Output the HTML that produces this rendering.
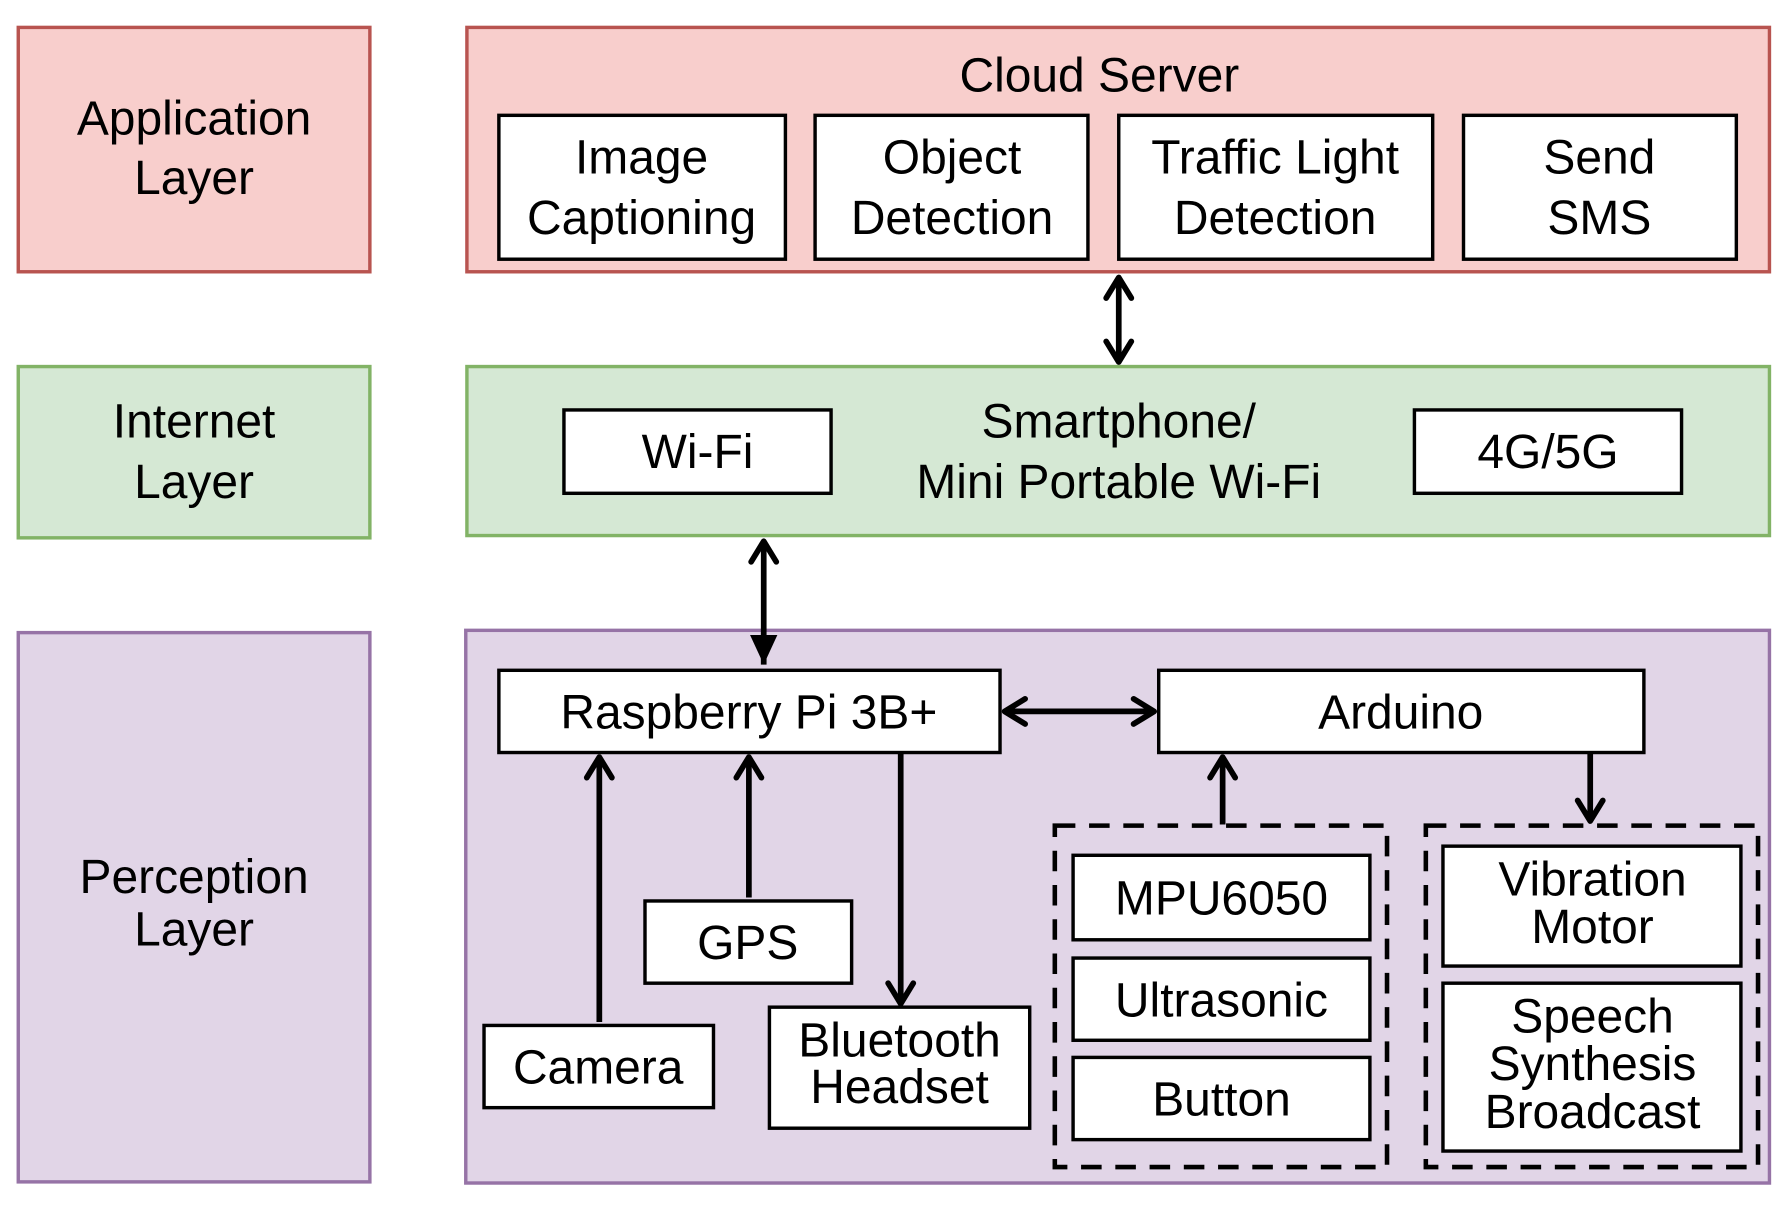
<!DOCTYPE html>
<html><head><meta charset="utf-8"><style>
html,body{margin:0;padding:0;background:#fff;}
svg{display:block;}
text{font-family:"Liberation Sans",Arial,sans-serif;font-size:42px;fill:#000;text-anchor:middle;}
</style></head><body>
<svg width="1790" height="1207" viewBox="0 0 1568 1057" preserveAspectRatio="none" xmlns="http://www.w3.org/2000/svg">
<defs>
<marker id="a" viewBox="0 0 28 28" refX="24" refY="14" markerWidth="28" markerHeight="28" markerUnits="userSpaceOnUse" orient="auto-start-reverse">
<polyline points="6,3 24,14 6,25" fill="none" stroke="#000" stroke-width="5" stroke-linecap="round" stroke-linejoin="round"/>
</marker>
<marker id="t" viewBox="0 0 28 28" refX="26" refY="14" markerWidth="28" markerHeight="28" markerUnits="userSpaceOnUse" orient="auto-start-reverse">
<polygon points="0,2 26,14 0,26" fill="#000"/>
</marker>
</defs>
<g stroke-width="3">
<rect x="16" y="24" width="308" height="214" fill="#f8cecc" stroke="#b85450"/>
<rect x="409" y="24" width="1141" height="214" fill="#f8cecc" stroke="#b85450"/>
<rect x="16" y="321" width="308" height="150" fill="#d5e8d4" stroke="#82b366"/>
<rect x="409" y="321" width="1141" height="148" fill="#d5e8d4" stroke="#82b366"/>
<rect x="16" y="554" width="308" height="481" fill="#e1d5e7" stroke="#9673a6"/>
<rect x="408" y="552" width="1142" height="484" fill="#e1d5e7" stroke="#9673a6"/>
</g>
<g fill="#fff" stroke="#000" stroke-width="3">
<rect x="437" y="101" width="251" height="126"/>
<rect x="714" y="101" width="239" height="126"/>
<rect x="980" y="101" width="275" height="126"/>
<rect x="1282" y="101" width="239" height="126"/>
<rect x="494" y="359" width="234" height="73"/>
<rect x="1239" y="359" width="234" height="73"/>
<rect x="437" y="587" width="439" height="72"/>
<rect x="1015" y="587" width="425" height="72"/>
<rect x="424" y="898" width="201" height="72"/>
<rect x="565" y="789" width="181" height="72"/>
<rect x="674" y="882" width="228" height="106"/>
<rect x="940" y="749" width="260" height="74"/>
<rect x="940" y="839" width="260" height="72"/>
<rect x="940" y="926" width="260" height="72"/>
<rect x="1264" y="741" width="261" height="105"/>
<rect x="1264" y="861" width="261" height="147"/>
</g>
<g fill="none" stroke="#000" stroke-width="4" stroke-dasharray="18,12">
<rect x="924" y="723" width="291" height="299"/>
<rect x="1249" y="723" width="291" height="299"/>
</g>
<g fill="none" stroke="#000" stroke-width="5">
<line x1="980" y1="243" x2="980" y2="317" marker-start="url(#a)" marker-end="url(#a)"/>
<line x1="669" y1="474" x2="669" y2="582" marker-start="url(#a)" marker-end="url(#t)"/>
<line x1="880" y1="623" x2="1011" y2="623" marker-start="url(#a)" marker-end="url(#a)"/>
<line x1="525" y1="895" x2="525" y2="663" marker-end="url(#a)"/>
<line x1="656" y1="786" x2="656" y2="663" marker-end="url(#a)"/>
<line x1="789" y1="660" x2="789" y2="879" marker-end="url(#a)"/>
<line x1="1071" y1="722" x2="1071" y2="663" marker-end="url(#a)"/>
<line x1="1393" y1="660" x2="1393" y2="719" marker-end="url(#a)"/>
</g>
<text x="170" y="118">Application</text><text x="170" y="170">Layer</text>
<text x="170" y="383">Internet</text><text x="170" y="436">Layer</text>
<text x="170" y="782">Perception</text><text x="170" y="828">Layer</text>
<text x="963" y="80">Cloud Server</text>
<text x="562" y="152">Image</text><text x="562" y="205">Captioning</text>
<text x="834" y="152">Object</text><text x="834" y="205">Detection</text>
<text x="1117" y="152">Traffic Light</text><text x="1117" y="205">Detection</text>
<text x="1401" y="152">Send</text><text x="1401" y="205">SMS</text>
<text x="611" y="410">Wi-Fi</text>
<text x="1356" y="410">4G/5G</text>
<text x="980" y="383">Smartphone/</text><text x="980" y="436">Mini Portable Wi-Fi</text>
<text x="656" y="638">Raspberry Pi 3B+</text>
<text x="1227" y="638">Arduino</text>
<text x="524" y="949">Camera</text>
<text x="655" y="840">GPS</text>
<text x="788" y="925">Bluetooth</text><text x="788" y="966">Headset</text>
<text x="1070" y="801">MPU6050</text>
<text x="1070" y="890">Ultrasonic</text>
<text x="1070" y="977">Button</text>
<text x="1395" y="784">Vibration</text><text x="1395" y="826">Motor</text>
<text x="1395" y="904">Speech</text><text x="1395" y="946">Synthesis</text><text x="1395" y="988">Broadcast</text>
</svg>
</body></html>
